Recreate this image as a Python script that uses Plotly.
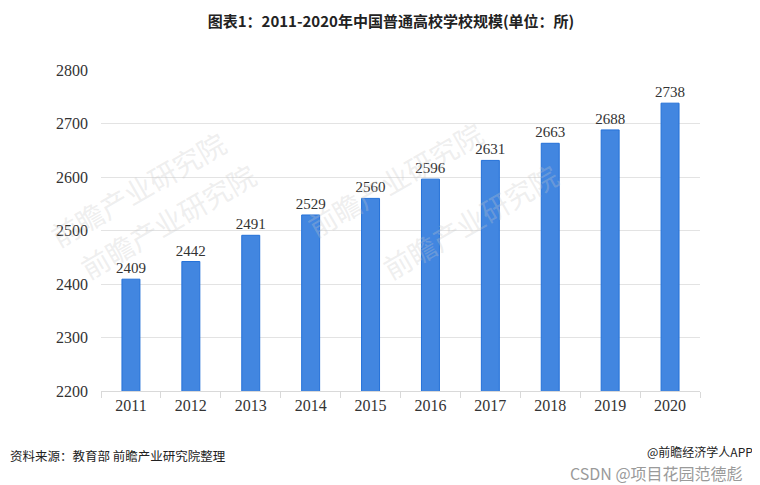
import plotly.graph_objects as go

years = ["2011", "2012", "2013", "2014", "2015", "2016", "2017", "2018", "2019", "2020"]
schools = [2409, 2442, 2491, 2529, 2560, 2596, 2631, 2663, 2688, 2738]

title_text = "图表1：2011-2020年中国普通高校学校规模(单位：所)"
source_text = "资料来源：教育部 前瞻产业研究院整理"
brand_text = "@前瞻经济学人APP"
csdn_text = "CSDN @项目花园范德彪"
watermark = "前瞻产业研究院"

serif = "Liberation Serif, Times New Roman, serif"
cjk = "Noto Sans CJK SC, sans-serif"

# the page body has an 8px margin, so the figure is sized to the visible area
OFF = 8
W, H = 760 - OFF, 485 - OFF
L, R, T, B = 101 - OFF, 60, 70 - OFF, 94
pw, ph = W - L - R, H - T - B


def px(x):
    # screen x -> paper x
    return (x - OFF - L) / pw


def py(y):
    # screen y -> paper y
    return (H - B - (y - OFF)) / ph


fig = go.Figure()
fig.add_trace(go.Bar(
    x=years, y=schools, width=0.3,
    marker=dict(color="#4286E0", line=dict(color="#2471D8", width=1)),
    text=[str(v) for v in schools], textposition="outside", constraintext="none",
    textfont=dict(family=serif, size=15, color="#333333"),
    cliponaxis=False,
))

fig.update_layout(
    width=W, height=H,
    margin=dict(l=L, r=R, t=T, b=B),
    paper_bgcolor="white", plot_bgcolor="white",
    showlegend=False,
    title=dict(text="<b>" + title_text + "</b>", x=(391 - OFF) / W, xanchor="center",
               y=1 - (22 - OFF) / H, yanchor="middle",
               font=dict(family=cjk, size=15, color="#222222")),
    font=dict(family=serif, color="#333333"),
)
fig.update_xaxes(
    type="category", showgrid=False, showline=True, linecolor="#d9d9d9", linewidth=1,
    ticks="outside", tickson="boundaries", ticklen=6, tickcolor="#d9d9d9",
    tickfont=dict(family=serif, size=16, color="#333333"), automargin=False,
)
fig.update_yaxes(
    range=[2200, 2800], dtick=100, showgrid=True, gridcolor="#e3e3e3", gridwidth=1,
    zeroline=False, showline=False, ticks="", ticklabelstandoff=12,
    tickfont=dict(family=serif, size=16, color="#333333"), automargin=False,
)

# faint brand watermarks
for wx, wy in [(40, 120), (395, 110), (70, 290), (470, 290)]:
    fig.add_annotation(text=watermark, xref="paper", yref="paper", x=px(wx), y=py(wy),
                       showarrow=False, textangle=-30,
                       font=dict(family=cjk, size=28, color="rgba(200,200,200,0.3)"))

fig.add_annotation(text=source_text, xref="paper", yref="paper", x=px(8), y=py(455),
                   xanchor="left", yanchor="middle", showarrow=False,
                   font=dict(family=cjk, size=12.5, color="#222222"))
fig.add_annotation(text=brand_text, xref="paper", yref="paper", x=px(755), y=py(452),
                   xanchor="right", yanchor="middle", showarrow=False,
                   font=dict(family=cjk, size=12, color="#222222"))
fig.add_annotation(text=csdn_text, xref="paper", yref="paper", x=px(745), y=py(473),
                   xanchor="right", yanchor="middle", showarrow=False,
                   font=dict(family=cjk, size=16, color="#9a9a9a"))

fig.write_html("out.html")
